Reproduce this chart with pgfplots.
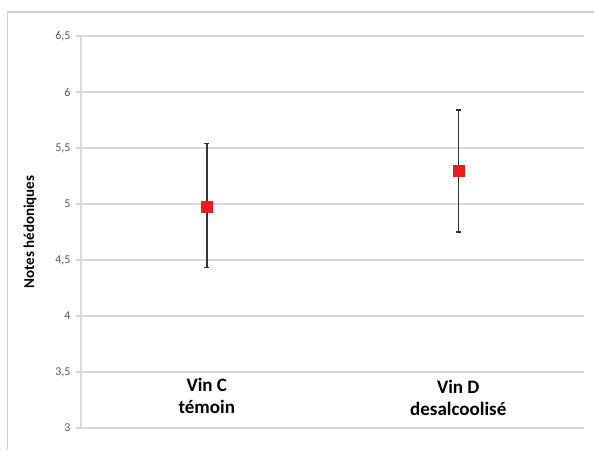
\documentclass[border=0pt]{standalone}
\usepackage{pgfplots}
\pgfplotsset{compat=1.18}
\usepackage{fontspec}
\setmainfont{Carlito}
\definecolor{gridgray}{HTML}{D9D9D9}
\definecolor{framegray}{HTML}{D0D0D0}
\definecolor{tickgray}{HTML}{595959}
\definecolor{ptred}{HTML}{EC1C24}
\begin{document}
\begin{tikzpicture}[x=1pt,y=1pt]
\path[use as bounding box] (0,0) rectangle (594,450);
\draw[framegray, line width=1.5pt] (7.5,0) -- (7.5,438) -- (594,438);
\begin{axis}[
  at={(81pt,22pt)}, anchor=south west,
  scale only axis, width=503pt, height=392pt,
  xmin=-0.5, xmax=1.5, ymin=3, ymax=6.5,
  ytick={3,3.5,...,6.5},
  xtick=\empty,
  ymajorgrids,
  grid style={gridgray, line width=1.3pt},
  axis line style={gridgray, line width=1.3pt},
  axis x line=none,
  axis y line*=left,
  y axis line style={-},
  ytick style={gridgray, line width=1.3pt},
  tick align=outside,
  major tick length=5pt,
  yticklabel style={font=\fontsize{12}{14}\selectfont, text=tickgray, xshift=-2pt},
  /pgf/number format/.cd, use comma, assume math mode=true,
  clip=false,
]
\addplot[only marks, mark=square*, mark size=5.5pt, mark options={ptred, draw=ptred},
  error bars/.cd, y dir=both, y explicit,
  error bar style={line width=1.5pt, black!80},
  error mark options={rotate=90, mark size=2.5pt, line width=1.3pt, black!80}]
  coordinates {
    (0,4.98) += (0,0.56) -= (0,0.55)
    (1,5.30) += (0,0.54) -= (0,0.55)
  };
\node[align=center, font=\bfseries\fontsize{19}{22}\selectfont] at (axis cs:0,3.285) {Vin C\\témoin};
\node[align=center, font=\bfseries\fontsize{19}{22}\selectfont] at (axis cs:1,3.27) {Vin D\\desalcoolisé};
\end{axis}
\node[rotate=90, font=\bfseries\fontsize{15}{18}\selectfont] at (30,218) {Notes hédoniques};
\end{tikzpicture}
\end{document}
